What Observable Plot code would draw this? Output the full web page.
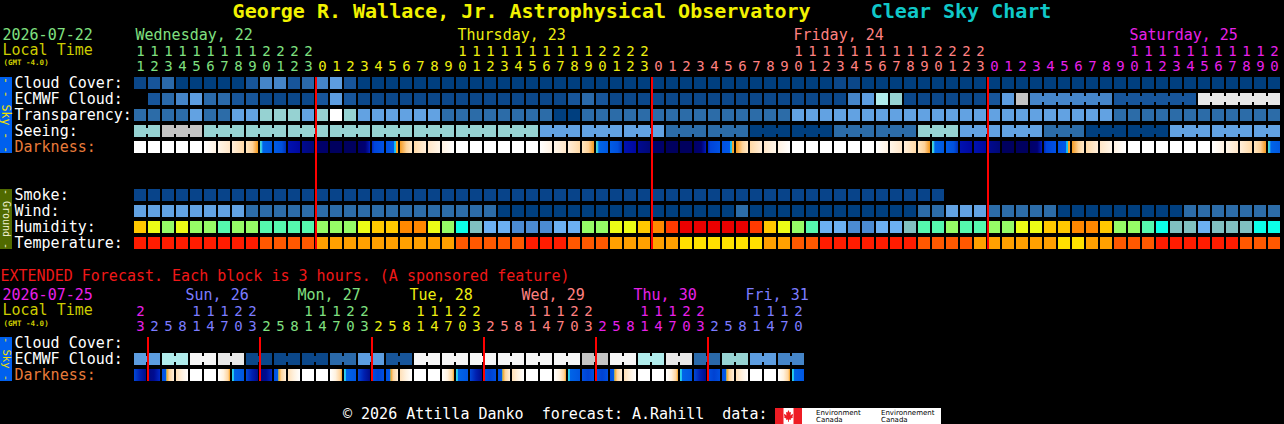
<!DOCTYPE html>
<html><head><meta charset="utf-8">
<script src="https://cdn.jsdelivr.net/npm/d3@7"></script>
<script src="https://cdn.jsdelivr.net/npm/@observablehq/plot@0.6"></script>
<style>
html,body{margin:0;padding:0;background:#000;}
#page{position:relative;width:1284px;height:424px;background:#000;overflow:hidden;font-family:"DejaVu Sans Mono",monospace;}
#main{position:absolute;left:0;top:0;}
#ext{position:absolute;left:0;top:256px;}
#title{position:absolute;left:0;top:-1px;width:1284px;text-align:center;white-space:pre;font:bold 20px "DejaVu Sans Mono";line-height:24px;z-index:2;}
#foot{position:absolute;left:343px;top:405px;white-space:pre;font:15px "DejaVu Sans Mono";line-height:18px;color:#fff;z-index:2;}
#logo{position:absolute;left:775px;top:408px;z-index:2;}
</style></head>
<body>
<svg width="0" height="0" style="position:absolute"><defs id="grads"></defs></svg>
<div id="page">
  <div id="main"></div>
  <div id="ext"></div>
  <div id="title"><span style="color:#f2f200">George R. Wallace, Jr. Astrophysical Observatory</span>     <span style="color:#10c8c8">Clear Sky Chart</span></div>
  <div id="foot">© 2026 Attilla Danko  forecast: A.Rahill  data:</div>
  <svg id="logo" width="166" height="16" viewBox="0 0 166 16">
    <rect x="0" y="0" width="27" height="16" fill="#fff"/>
    <rect x="0" y="0" width="8.5" height="16" fill="#ee1c24"/>
    <rect x="18.5" y="0" width="8.5" height="16" fill="#ee1c24"/>
    <path d="M13.5 2 L14.6 4.6 L16 4 L15.5 7.4 L17.6 5.8 L18 7 L17.4 8.8 L18.2 9.2 L15.6 10.8 L16 12 L14 11.4 L13.8 14 L13.2 14 L13 11.4 L11 12 L11.4 10.8 L8.8 9.2 L9.6 8.8 L9 7 L9.4 5.8 L11.5 7.4 L11 4 L12.4 4.6 Z" fill="#ee1c24"/>
    <rect x="27" y="0" width="139" height="16" fill="#fff"/>
    <text x="41" y="7" font-family="DejaVu Sans" font-size="7" fill="#000">Environment</text>
    <text x="41" y="14" font-family="DejaVu Sans" font-size="7" fill="#000">Canada</text>
    <text x="106" y="7" font-family="DejaVu Sans" font-size="7" fill="#000">Environnement</text>
    <text x="106" y="14" font-family="DejaVu Sans" font-size="7" fill="#000">Canada</text>
  </svg>
</div>
<script>
const W = 1284;
const font = "DejaVu Sans Mono";

// ---------- main (hourly) chart data ----------
const mainDate = "2026-07-22";
const mainDays = ["Wednesday, 22", "Thursday, 23", "Friday, 24", "Saturday, 25"];
const mainDayColors = ["#80e080", "#eeee10", "#ff8080", "#e820e8"];
const mainHours = [11,12,13,14,15,16,17,18,19,20,21,22,23,
  0,1,2,3,4,5,6,7,8,9,10,11,12,13,14,15,16,17,18,19,20,21,22,23,
  0,1,2,3,4,5,6,7,8,9,10,11,12,13,14,15,16,17,18,19,20,21,22,23,
  0,1,2,3,4,5,6,7,8,9,10,11,12,13,14,15,16,17,18,19,20];
// cloud cover in %
const cloudCover = [10,20,30,0,0,0,0,0,20,40,
  40,20,30,40,50,20,0,0,0,0,
  0,0,0,0,0,0,0,0,0,0,
  0,0,0,0,0,0,0,0,0,0,
  0,0,0,0,0,0,0,0,0,0,
  10,10,0,0,0,0,0,0,0,0,
  0,0,0,0,0,0,0,0,0,0,
  0,0,0,0,0,0,0,0,0,0,
  0,0];
const ecmwfCloud = [null,20,30,40,50,30,30,20,20,10,
  10,10,10,20,50,20,10,10,10,10,
  10,10,10,10,10,10,10,10,10,10,
  10,20,30,20,10,10,10,10,10,10,
  10,10,10,10,10,10,10,10,10,10,
  10,40,50,70,60,10,10,10,10,10,
  10,20,50,80,40,40,40,40,40,40,
  20,20,20,20,20,20,90,90,90,90,
  90,90];
const ecmwfSixHourFrom = 64; // first column of the 6-hourly ECMWF blocks
// transparency: 5 transparent, 4 above avg, 3 average, 2 below avg, 0 too cloudy
const transparency = [4,4,4,4,3,4,4,3,3,2,
  2,2,3,2,0,2,3,3,3,3,
  3,3,4,4,4,4,4,4,4,4,
  5,5,4,4,4,4,4,4,4,4,
  4,4,4,4,4,4,4,3,3,3,
  3,3,3,3,3,3,3,3,3,3,
  3,3,3,3,3,3,3,3,3,3,
  4,4,4,4,4,4,4,4,4,4,
  4,4];
// seeing in fifths: 5 excellent ... 1 bad
const seeing = [2,2,1,1,1,2,2,2,2,2,
  2,2,2,2,2,2,2,2,2,2,
  2,2,2,2,2,2,2,2,2,3,
  3,3,3,3,3,3,3,3,4,4,
  4,4,4,4,5,5,5,5,5,5,
  4,4,4,4,4,4,2,2,2,3,
  3,3,3,3,3,4,4,4,5,5,
  5,5,5,5,3,3,3,3,3,3,
  3,3];
// darkness states (day, twilight, moon / night shades)
const darkness = ["D","D","D","D","D","L1","L2","L3","DU","CB",
  "BD","N1","N2","N3","N4","N4","NE","BL","BC","DA",
  "M3","M2","M1","D","D","D","D","D","D","L1",
  "L2","L3","DU","CB","BD","N1","N2","N3","N4","N4",
  "NE","BL","BC","DA","M3","M2","M1","D","D","D",
  "D","D","D","L1","L2","L3","DU","CB","BD","N1",
  "N1","N2","N4","N4","NE","BL","BC","DA","M3","M2",
  "M1","D","D","D","D","D","D","L1","L2","L3",
  "DU","CB"];
const smoke = [0,0,0,0,0,0,0,0,0,0,
  0,0,0,0,0,0,0,0,0,0,
  0,0,0,0,0,0,0,0,0,0,
  0,0,0,0,0,0,0,0,0,0,
  0,0,0,0,0,0,0,0,0,0,
  0,0,0,0,0,0,0,0,null,null,
  null,null,null,null,null,null,null,null,null,null,
  null,null,null,null,null,null,null,null,null,null,
  null,null];
// wind: 0 = 0-5 mph, 1 = 6-11 mph, 2 = 12-16 mph
const wind = [2,2,2,2,2,2,2,2,1,1,
  1,1,1,1,1,1,1,1,1,1,
  1,1,1,1,1,1,0,0,0,0,
  0,0,0,0,0,0,0,0,0,0,
  0,0,0,1,0,0,0,0,0,0,
  0,0,0,0,0,0,1,1,2,2,
  2,1,1,1,1,1,0,0,0,0,
  0,0,0,0,0,1,1,1,1,1,
  1,1];
// relative humidity %
const humidity = [70,65,60,65,60,60,55,60,60,55,
  55,55,55,60,60,60,65,70,70,75,
  75,65,60,50,45,40,40,35,35,35,
  40,40,60,60,65,65,70,75,80,85,
  85,85,85,85,80,70,65,60,55,40,
  40,35,35,40,40,45,55,55,60,55,
  55,60,60,65,65,70,70,75,75,70,
  60,60,55,50,45,45,40,45,45,45,
  50,50];
// temperature band, °F
const temperature = [80,80,80,80,80,80,80,80,80,75,
  75,75,75,70,70,70,70,70,70,70,
  70,70,70,75,75,75,75,75,80,80,
  80,75,75,75,70,70,70,70,70,65,
  65,65,65,65,65,70,70,75,75,80,
  80,80,80,80,80,80,75,75,75,75,
  70,70,70,70,70,70,65,65,70,70,
  75,75,75,80,80,80,80,80,80,75,
  75,75];

// ---------- extended (3-hour) chart data ----------
const extDate = "2026-07-25";
const extDays = ["", "Sun, 26", "Mon, 27", "Tue, 28", "Wed, 29", "Thu, 30", "Fri, 31"];
const extDayColors = ["#e820e8", "#7c7cff", "#80e080", "#eeee10", "#ff8080", "#e820e8", "#7c7cff"];
const extHours = [23,
  2,5,8,11,14,17,20,23,
  2,5,8,11,14,17,20,23,
  2,5,8,11,14,17,20,23,
  2,5,8,11,14,17,20,23,
  2,5,8,11,14,17,20,23,
  2,5,8,11,14,17,20];
const extEcmwf = [50,50,70,70,100,100,90,90,10,10,
  10,10,10,10,30,30,50,50,20,20,
  100,100,100,100,100,100,100,100,100,100,
  100,100,80,80,100,100,70,70,90,90,
  30,30,60,60,50,50,40,40];
const extDarkness = ["EN","EM","EDA","EL","D","D","EDU","ECB",
  "EN","EM","EDA","EL","D","D","EDU","ECB",
  "EN","EB","EDA","EL","D","D","EDU","ECB",
  "EN","EB","EDA","EL","D","D","EDU","ECB",
  "EB","EB","EDA","EL","D","D","EDU","ECB",
  "EN","EB","EDA","EL","D","D","EDU","ECB"];

// ---------- colour tables ----------
const cloudColors = {0:"#003f7f",10:"#0b4789",20:"#17559a",30:"#2a69a9",40:"#4585c8",50:"#5d9de0",
  60:"#96d3d3",70:"#b0ecec",80:"#c4c4c4",90:"#e8e8e8",100:"#f6f6f6"};
const transColors = {5:"#003f7f",4:"#2c6ca8",3:"#62a2e2",2:"#96d2d2",1:"#c8c8c8",0:"#ffffff"};
const seeingColors = {5:"#003f7f",4:"#2c6ca8",3:"#62a2e2",2:"#96d2d2",1:"#c4c4c4"};
const smokeColors = {0:"#08448a"};
const windColors = {0:"#003f7f",1:"#2c6ca8",2:"#62a2e2"};
const humColors = {35:"#4b8bd2",40:"#6cb0f2",45:"#80c0c0",50:"#0cffe8",55:"#55f8ae",60:"#96fc66",
  65:"#ecfc16",70:"#ffc800",75:"#ff8800",80:"#ff3a00",85:"#ea0000"};
const tempColors = {65:"#ffe000",70:"#ffa000",75:"#ff5800",80:"#ff1c00"};
const gradients = {
  L1: [[0,"#ffffff"],[1,"#fff2e2"]],
  L2: [[0,"#fff6ea"],[1,"#ffe6c8"]],
  L3: [[0,"#ffeeda"],[1,"#ffd9a6"]],
  DU: [[0,"#ffe6c0"],[0.55,"#fdd096"],[0.8,"#f9b050"],[1,"#f39a1c"]],
  CB: [[0,"#50e0c0"],[0.14,"#30c0f0"],[0.24,"#0064e8"],[1,"#0058e0"]],
  BD: [[0,"#005ce6"],[0.65,"#0050dc"],[0.85,"#0040c8"],[1,"#0030b8"]],
  N1: [[0,"#0012b0"],[1,"#0008a0"]],
  N2: [[0,"#000a90"],[1,"#000878"]],
  NE: [[0,"#000068"],[0.6,"#000072"],[0.85,"#0010a0"],[1,"#0020c0"]],
  BL: [[0,"#0028c0"],[0.2,"#0044d8"],[1,"#0052e4"]],
  BC: [[0,"#0050e0"],[0.66,"#0058ea"],[0.67,"#10b0f0"],[0.82,"#20c8f0"],[0.83,"#f6a020"],[1,"#f8a830"]],
  DA: [[0,"#f59c22"],[0.25,"#f9b458"],[0.55,"#fdd49c"],[1,"#ffe8c8"]],
  M3: [[0,"#ffd9a6"],[1,"#ffeeda"]],
  M2: [[0,"#ffe6c8"],[1,"#fff6ea"]],
  M1: [[0,"#fff2e2"],[1,"#ffffff"]],
  EL: [[0,"#ffe0b8"],[0.5,"#fff2e0"],[1,"#ffffff"]],
  EDU: [[0,"#ffffff"],[0.45,"#fff2e0"],[0.85,"#ffd49c"],[1,"#f5a020"]],
  ECB: [[0,"#30d8e8"],[0.14,"#20c0f0"],[0.2,"#0064e8"],[1,"#0056e0"]],
  EN: [[0,"#0048d8"],[0.5,"#0020b0"],[1,"#000c88"]],
  EM: [[0,"#000a80"],[0.5,"#000c90"],[1,"#0028c8"]],
  EB: [[0,"#0050e0"],[0.5,"#0042d2"],[1,"#0050e0"]],
  EDA: [[0,"#0050e0"],[0.3,"#0058e8"],[0.34,"#20c0f0"],[0.4,"#f5a020"],[0.6,"#fdd49c"],[1,"#fff0dc"]]
};
const darkColors = {D:"#ffffff", N3:"#00006a", N4:"#00005e"};
const defs = d3.select("#grads");
for (const [k, stops] of Object.entries(gradients)) {
  const g = defs.append("linearGradient").attr("id", "g-" + k).attr("x1", 0).attr("x2", 1).attr("y1", 0).attr("y2", 0);
  for (const [o, c] of stops) g.append("stop").attr("offset", o).attr("stop-color", c);
  darkColors[k] = `url(#g-${k})`;
}
const palettes = {cl: cloudColors, tr: transColors, se: seeingColors, sm: smokeColors, wi: windColors,
  hu: humColors, te: tempColors, dk: darkColors};
const colorDomain = [], colorRange = [];
for (const [p, pal] of Object.entries(palettes))
  for (const [k, c] of Object.entries(pal)) { colorDomain.push(p + ":" + k); colorRange.push(c); }

// ---------- helpers ----------
function buildCells(rows) {
  const cells = [], bridges = [];
  for (const r of rows) {
    r.values.forEach((v, i) => {
      if (v == null) return;
      const key = r.pal + ":" + v;
      cells.push({i, row: r.row, key});
      if (r.group && i + 1 < r.values.length && r.values[i + 1] === v) {
        const g1 = r.group(i), g2 = r.group(i + 1);
        if (g1 != null && g1 === g2) bridges.push({at: i + 1, row: r.row, key});
      }
    });
  }
  return {cells, bridges};
}
function buildTicks(hours, dayColors) {
  let day = 0;
  return hours.map((h, i) => {
    if (i > 0 && h < hours[i - 1]) day++;
    return {i, h, day, color: dayColors[day]};
  });
}
// vertical side bar spanning a range of band rows, with rotated label (custom render mark using the y scale)
function sideBar(row1, row2, fill, label, textFill, size) {
  return (index, scales) => {
    const y = scales.y;
    const bw = y.bandwidth ? y.bandwidth() : 12;
    const top = y(row1), bottom = y(row2) + bw;
    const g = d3.create("svg:g");
    g.append("rect").attr("x", 0).attr("y", top).attr("width", 12).attr("height", bottom - top).attr("fill", fill);
    g.append("text").attr("transform", `translate(6.5,${(top + bottom) / 2}) rotate(90)`)
      .attr("text-anchor", "middle").attr("dy", "0.35em").attr("fill", textFill)
      .attr("font-family", font).attr("font-size", size).text(label);
    return g.node();
  };
}
const txt = {fontFamily: font, fontSize: 15};
const dig = {fontFamily: font, fontSize: 14};

// ---------- main chart ----------
const mainRows = [
  {row: "Cloud Cover", label: "Cloud Cover:", values: cloudCover, pal: "cl"},
  {row: "ECMWF Cloud", label: "ECMWF Cloud:", values: ecmwfCloud, pal: "cl",
    group: i => i >= ecmwfSixHourFrom ? Math.floor((i - ecmwfSixHourFrom) / 6) : null},
  {row: "Transparency", label: "Transparency:", values: transparency, pal: "tr"},
  {row: "Seeing", label: "Seeing:", values: seeing, pal: "se", group: i => Math.floor((i + 1) / 3)},
  {row: "Darkness", label: "Darkness:", values: darkness, pal: "dk", color: "#e87b3a"},
  {row: "Smoke", label: "Smoke:", values: smoke, pal: "sm"},
  {row: "Wind", label: "Wind:", values: wind, pal: "wi"},
  {row: "Humidity", label: "Humidity:", values: humidity, pal: "hu"},
  {row: "Temperature", label: "Temperature:", values: temperature, pal: "te"}
];
const mainBands = ["date","tens","ones","Cloud Cover","ECMWF Cloud","Transparency","Seeing","Darkness",
  "gap1","gap2","Smoke","Wind","Humidity","Temperature"];
const M = buildCells(mainRows);
const mTicks = buildTicks(mainHours, mainDayColors);
const mMidnights = mTicks.filter((t, k) => k > 0 && t.day !== mTicks[k - 1].day).map(t => t.i);
const mDayLabels = mainDays.map((label, day) => {
  const cols = mTicks.filter(t => t.day === day);
  const at = cols.find(t => t.h === 10) ?? cols[0];
  return {i: at.i, label, color: mainDayColors[day]};
});

const mainPlot = Plot.plot({
  width: W, height: 256, margin: 0,
  style: {background: "#000", color: "#fff", fontFamily: font},
  x: {type: "linear", domain: [0, 82], range: [134, 1282], axis: null},
  y: {type: "band", domain: mainBands, range: [29, 249], paddingInner: 0.25, paddingOuter: 0, axis: null},
  color: {type: "ordinal", domain: colorDomain, range: colorRange},
  marks: [
    sideBar("Cloud Cover", "Darkness", "#0060ee", "- - Sky - -", "#f0e000", 11.5),
    sideBar("Smoke", "Temperature", "#506a00", "- Ground -", "#f0f0d0", 10),
    Plot.barX(M.cells, {x1: "i", x2: d => d.i + 1, y: "row", fill: "key", insetRight: 2}),
    Plot.barX(M.bridges, {x1: "at", x2: "at", y: "row", fill: "key", insetLeft: -3, insetRight: -1, insetTop: 3, insetBottom: 3}),
    Plot.ruleX(mMidnights, {x: d => d, y1: () => "Cloud Cover", y2: () => "Temperature", stroke: "#ff0000", strokeWidth: 2, dx: -0.5}),
    Plot.text(mTicks.filter(d => d.h >= 10), {x: "i", y: () => "tens", text: d => String(Math.floor(d.h / 10)), fill: "color", dx: 6, ...dig}),
    Plot.text(mTicks, {x: "i", y: () => "ones", text: d => String(d.h % 10), fill: "color", dx: 6, dy: -1, ...dig}),
    Plot.text(mDayLabels, {x: "i", y: () => "date", text: "label", fill: "color", textAnchor: "start", dx: 1, ...txt}),
    Plot.text([mainDate], {y: () => "date", frameAnchor: "left", textAnchor: "start", dx: 2, fill: "#80e080", ...txt}),
    Plot.text(["Local Time"], {y: () => "tens", dy: -1, frameAnchor: "left", textAnchor: "start", dx: 2, fill: "#cccc00", ...txt}),
    Plot.text(["(GMT -4.0)"], {y: () => "ones", dy: -5, frameAnchor: "left", textAnchor: "start", dx: 3, fill: "#cccc00",
      fontFamily: font, fontSize: 7.5, fontWeight: "bold"}),
    Plot.text(mainRows, {y: "row", text: "label", frameAnchor: "left", textAnchor: "start", dx: 14,
      fill: d => d.color ?? "#ffffff", ...txt})
  ]
});
document.getElementById("main").append(mainPlot);

// ---------- extended chart ----------
const extRows = [
  {row: "Cloud Cover", label: "Cloud Cover:", values: [], pal: "cl"},
  {row: "ECMWF Cloud", label: "ECMWF Cloud:", values: extEcmwf, pal: "cl", group: i => Math.floor(i / 2)},
  {row: "Darkness", label: "Darkness:", values: extDarkness, pal: "dk", color: "#e87b3a"}
];
const extBands = ["date","tens","ones","Cloud Cover","ECMWF Cloud","Darkness"];
const E = buildCells(extRows);
const eTicks = buildTicks(extHours, extDayColors);
const eMidnights = eTicks.filter((t, k) => k > 0 && t.day !== eTicks[k - 1].day).map(t => t.i);
const eDayLabels = extDays.map((label, day) => {
  const at = eTicks.find(t => t.day === day && t.h === 11);
  return at && label ? {i: at.i, label, color: extDayColors[day]} : null;
}).filter(Boolean);

const extPlot = Plot.plot({
  width: W, height: 136, margin: 0,
  style: {background: "#000", color: "#fff", fontFamily: font},
  x: {type: "linear", domain: [0, 82], range: [134, 1282], axis: null},
  y: {type: "band", domain: extBands, range: [33, 125], paddingInner: 0.25, paddingOuter: 0, axis: null},
  color: {type: "ordinal", domain: colorDomain, range: colorRange},
  marks: [
    Plot.text(["EXTENDED Forecast. Each block is 3 hours. (A sponsored feature)"], {frameAnchor: "top-left",
      textAnchor: "start", lineAnchor: "middle", dy: 20, fill: "#f01818", ...txt}),
    sideBar("Cloud Cover", "Darkness", "#0060ee", "- Sky -", "#f0e000", 10.5),
    Plot.barX(E.cells, {x1: "i", x2: d => d.i + 1, y: "row", fill: "key", insetRight: 2}),
    Plot.barX(E.bridges, {x1: "at", x2: "at", y: "row", fill: "key", insetLeft: -3, insetRight: -1, insetTop: 3, insetBottom: 3}),
    Plot.ruleX(eMidnights, {x: d => d, y1: () => "Cloud Cover", y2: () => "Darkness", stroke: "#ff0000", strokeWidth: 2, dx: -0.5}),
    Plot.text(eTicks.filter(d => d.h >= 10), {x: "i", y: () => "tens", text: d => String(Math.floor(d.h / 10)), fill: "color", dx: 6, ...dig}),
    Plot.text(eTicks, {x: "i", y: () => "ones", text: d => String(d.h % 10), fill: "color", dx: 6, dy: -1, ...dig}),
    Plot.text(eDayLabels, {x: "i", y: () => "date", text: "label", fill: "color", textAnchor: "start", dx: -5, ...txt}),
    Plot.text([extDate], {y: () => "date", frameAnchor: "left", textAnchor: "start", dx: 2, fill: "#e820e8", ...txt}),
    Plot.text(["Local Time"], {y: () => "tens", dy: -1, frameAnchor: "left", textAnchor: "start", dx: 2, fill: "#cccc00", ...txt}),
    Plot.text(["(GMT -4.0)"], {y: () => "ones", dy: -4, frameAnchor: "left", textAnchor: "start", dx: 3, fill: "#cccc00",
      fontFamily: font, fontSize: 7.5, fontWeight: "bold"}),
    Plot.text(extRows, {y: "row", text: "label", frameAnchor: "left", textAnchor: "start", dx: 14,
      fill: d => d.color ?? "#ffffff", ...txt})
  ]
});
document.getElementById("ext").append(extPlot);
</script>
</body></html>
